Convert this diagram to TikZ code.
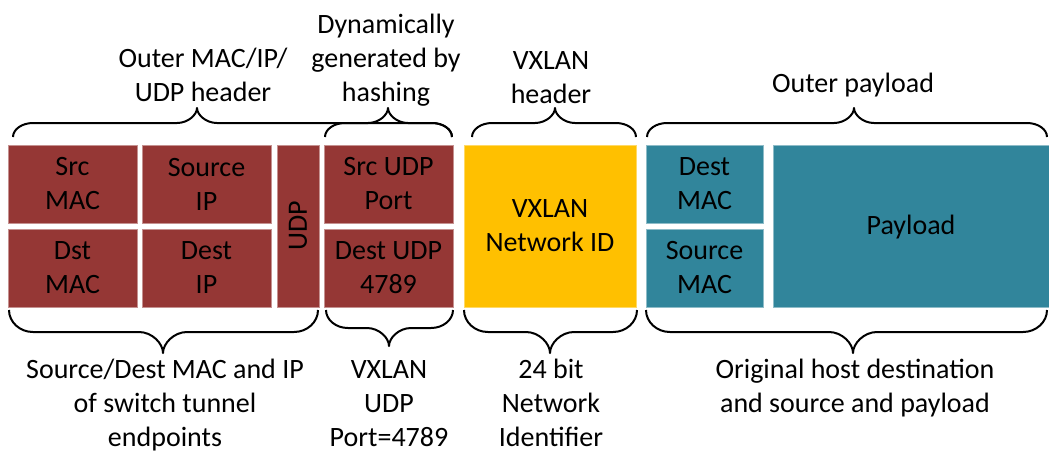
\documentclass[tikz,border=0pt]{standalone}
\usepackage{fontspec}
\setmainfont{Carlito}

\definecolor{hdrbrown}{RGB}{149,55,53}
\definecolor{vxyellow}{RGB}{255,192,0}
\definecolor{plteal}{RGB}{49,133,155}

\tikzset{
  field/.style={rectangle, inner sep=0pt, outer sep=0pt, align=center,
                text=black, line width=0.8pt},
  brownfield/.style={field, fill=hdrbrown, draw=hdrbrown!55!white},
  yellowfield/.style={field, fill=vxyellow, draw=vxyellow!60!white},
  tealfield/.style={field, fill=plteal, draw=plteal!55!white},
  bracestyle/.style={draw=black, line width=2pt, line join=round},
  caption/.style={align=center, inner sep=0pt, anchor=base},
}

% field box from its corners: style, name, x1, y1, x2, y2, text
\newcommand\fieldbox[7]{%
  \node[#1, minimum width={#5-#3}, minimum height={#6-#4}]
    (#2) at ({(#3+#5)/2},{(#4+#6)/2}) {#7};}

% curly brace: xleft, xright, xtip, yend, yline, ytip, corner radius
\newcommand\curlybrace[7]{%
  \draw[bracestyle] (#1,#4)
    .. controls (#1,{#4+0.55*(#5-#4)}) and ({#1+0.45*#7},#5) .. ({#1+#7},#5)
    -- ({#3-#7},#5)
    .. controls ({#3-0.45*#7},#5) and (#3,{#5+0.55*(#6-#5)}) .. (#3,#6)
    .. controls (#3,{#5+0.55*(#6-#5)}) and ({#3+0.45*#7},#5) .. ({#3+#7},#5)
    -- ({#2-#7},#5)
    .. controls ({#2-0.45*#7},#5) and (#2,{#4+0.55*(#5-#4)}) .. (#2,#4);}

\begin{document}
\begin{tikzpicture}[x=1pt, y=-1pt,
  every node/.style={font=\fontsize{28}{34}\selectfont}]
\useasboundingbox (0,0) rectangle (1049,451);

% outer Ethernet/IP/UDP header fields
\fieldbox{brownfield}{srcmac}{8}{145}{137}{223}{Src\\MAC}
\fieldbox{brownfield}{dstmac}{8}{229}{137}{307}{Dst\\MAC}
\fieldbox{brownfield}{srcip}{142}{145}{271}{223}{Source\\IP}
\fieldbox{brownfield}{dstip}{142}{229}{271}{307}{Dest\\IP}
\fieldbox{brownfield}{udp}{277}{145}{319}{307}{}
\node[rotate=90] at (udp.center) {UDP};
\fieldbox{brownfield}{srcudp}{324}{145}{453}{223}{Src UDP\\Port}
\fieldbox{brownfield}{dstudp}{324}{229}{453}{307}{Dest UDP\\4789}

% VXLAN header
\fieldbox{yellowfield}{vni}{464}{145}{636}{307}{VXLAN\\Network ID}

% inner frame
\fieldbox{tealfield}{dmac}{646}{145}{763}{223}{Dest\\MAC}
\fieldbox{tealfield}{smac}{646}{229}{763}{307}{Source\\MAC}
\fieldbox{tealfield}{payload}{773}{145}{1049}{307}{}
\node[anchor=base] at (911,234) {Payload};

% braces above the fields
\curlybrace{13}{452}{197}{137}{123}{108}{20}
\curlybrace{325}{452}{388}{137}{123}{108}{20}
\curlybrace{472}{636}{555}{137}{123}{108}{20}
\curlybrace{647}{1047}{854}{137}{123}{108}{20}

% braces below the fields
\curlybrace{9}{318}{163}{310}{332}{353}{24}
\curlybrace{326}{453}{389}{310}{328}{346}{22}
\curlybrace{464}{637}{550}{310}{332}{353}{24}
\curlybrace{646}{1047}{853}{310}{332}{353}{24}

% captions above (anchored at the baseline of the last line)
\node[caption] (capouter) at (203,101) {Outer MAC/IP/\\UDP header};
\node[caption] (caphash) at (386,101) {Dynamically\\generated by\\hashing};
\node[caption] (capvx) at (551,103) {VXLAN\\header};
\node[caption] (capout) at (853,92) {Outer payload};

% captions below
\node[caption] (capvtep) at (165,446) {Source/Dest MAC and IP\\of switch tunnel\\endpoints};
\node[caption] (capport) at (389,446) {VXLAN\\UDP\\Port=4789};
\node[caption] (capvni) at (551,446) {24 bit\\Network\\Identifier};
\node[caption] (caphost) at (855,412) {Original host destination\\and source and payload};
\end{tikzpicture}
\end{document}
